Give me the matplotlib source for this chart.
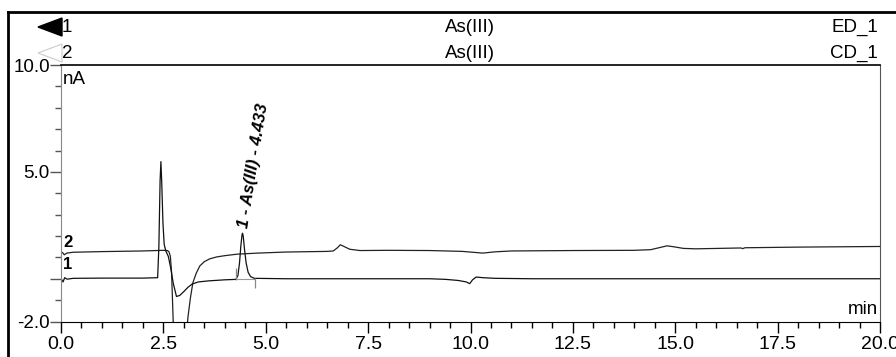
import numpy as np
import matplotlib.pyplot as plt
from matplotlib.lines import Line2D
from matplotlib.patches import Polygon

plt.rcParams['font.family'] = ['Liberation Sans', 'DejaVu Sans']

# trace 1 : ED_1 (nA)
ed_time = [0, 0.02, 0.05, 0.09, 0.15, 0.3, 1.0, 2.0, 2.36, 2.39, 2.42, 2.44, 2.46,
           2.49, 2.52, 2.56, 2.62, 2.68, 2.74, 2.82, 2.9, 3.0, 3.1, 3.2, 3.35, 3.6,
           4.0, 4.27, 4.32, 4.36, 4.39, 4.42, 4.433, 4.45, 4.48, 4.52, 4.57, 4.63,
           4.72, 5.5, 7.0, 9.0, 9.4, 9.7, 9.9, 9.98, 10.05, 10.14, 10.3, 10.6, 11.5,
           14.0, 17.0, 20.0]
ed_signal = [0.03, -0.05, -0.15, 0.05, -0.02, 0.02, 0.03, 0.03, 0.05, 1.5, 4.6, 5.48, 4.5,
             2.6, 1.6, 1.3, 1.05, 0.5, -0.2, -0.83, -0.78, -0.6, -0.4, -0.25, -0.15, -0.1,
             -0.05, -0.03, 0.15, 0.75, 1.5, 2.05, 2.13, 2.0, 1.4, 0.75, 0.3, 0.1,
             0.02, 0.0, 0.0, 0.0, -0.03, -0.08, -0.15, -0.23, -0.05, 0.08, 0.05, 0.02, 0.0,
             0.0, 0.0, 0.0]

# trace 2 : CD_1
cd_time = [0, 0.04, 0.08, 0.14, 0.3, 1.0, 2.0, 2.5, 2.6, 2.64, 2.67, 2.7, 2.74, 2.8,
           2.9, 3.0, 3.05, 3.1, 3.16, 3.22, 3.3, 3.39, 3.5, 3.63, 3.8, 4.0, 4.3, 4.8,
           5.5, 6.5, 6.65, 6.75, 6.82, 6.9, 7.05, 7.3, 8.0, 9.0, 9.8, 10.3, 10.6, 11.0,
           12.5, 14.0, 14.4, 14.6, 14.8, 14.95, 15.2, 15.5, 16.6, 16.65, 16.7, 18.0, 20.0]
cd_signal = [1.25, 1.22, 1.12, 1.2, 1.24, 1.27, 1.3, 1.33, 1.32, 1.25, 1.05, 0.3, -2.0, -3.5,
             -4.3, -3.8, -3.0, -1.8, -0.9, -0.19, 0.25, 0.6, 0.8, 0.93, 1.02, 1.08, 1.15, 1.2,
             1.25, 1.28, 1.3, 1.45, 1.59, 1.52, 1.38, 1.32, 1.33, 1.32, 1.28, 1.2, 1.26, 1.3,
             1.32, 1.33, 1.36, 1.45, 1.54, 1.5, 1.42, 1.40, 1.44, 1.41, 1.45, 1.48, 1.51]

# integrated peak
peak_label = '1 - As(III) - 4.433'
peak_start = 4.27
peak_end = 4.73
peak_base = [0.0, 0.0]

x_ticks = [0, 2.5, 5, 7.5, 10, 12.5, 15, 17.5, 20]
y_ticks = [10, 5, 0, -2]
y_tick_labels = ['10.0', '5.0', '', '-2.0']

W, H = 896, 357
fig = plt.figure(figsize=(W / 100, H / 100), dpi=100)
ax = fig.add_axes([61 / W, 35.5 / H, 819 / W, 256.5 / H])

ax.plot(cd_time, cd_signal, color='#222222', lw=0.9)
ax.plot(ed_time, ed_signal, color='#111111', lw=0.9)

# integration baseline and delimiters
ax.plot([peak_start, peak_end], peak_base, color='#999999', lw=0.8)
ax.vlines(peak_start, peak_base[0] - 0.05, peak_base[0] + 0.5, color='#888888', lw=0.9)
ax.vlines(peak_end, peak_base[1] - 0.42, peak_base[1] + 0.05, color='#888888', lw=0.9)

ax.text(4.7, 2.35, peak_label, rotation=81, ha='center', va='bottom',
        fontsize=12, fontweight='bold', fontstyle='italic')

ax.text(0.05, 1.7, '2', fontsize=12, fontweight='bold', va='center', ha='left')
ax.text(0.05, 0.65, '1', fontsize=12, fontweight='bold', va='center', ha='left')

ax.set_xlim(0, 20)
ax.set_ylim(-2, 10)
ax.set_xticks(x_ticks)
ax.set_xticklabels([f'{v:.1f}' for v in x_ticks])
ax.set_xticks(np.arange(0, 20.01, 0.5), minor=True)
ax.set_yticks(y_ticks)
ax.set_yticklabels(y_tick_labels)
ax.set_yticks(np.arange(-2, 10.01, 1), minor=True)

ax.tick_params(axis='x', which='major', direction='out', length=8, width=1,
               labelsize=14, pad=2.5)
ax.tick_params(axis='x', which='minor', direction='out', length=4, width=1)
ax.tick_params(axis='y', which='major', direction='out', length=8, width=1,
               labelsize=13.5, pad=0, color='#555555')
ax.tick_params(axis='y', which='minor', direction='out', length=4, width=1,
               color='#555555')

ax.spines['left'].set_color('#888888')
ax.spines['right'].set_color('#555555')
ax.spines['top'].set_color('black')
ax.spines['top'].set_linewidth(1.2)
ax.spines['bottom'].set_color('black')

ax.text(0.002, 0.975, 'nA', transform=ax.transAxes, fontsize=13.5, va='top', ha='left')
ax.text(0.998, 0.015, 'min', transform=ax.transAxes, fontsize=13.5, va='bottom', ha='right')

# outer report frame
fig.add_artist(Line2D([8 / W, 1], [1 - 12 / H] * 2, transform=fig.transFigure,
                      color='black', lw=2))
fig.add_artist(Line2D([8 / W] * 2, [0, 1 - 12 / H], transform=fig.transFigure,
                      color='black', lw=2))

# header: channel rows
rows = [('1', 'As(III)', 'ED_1', 27), ('2', 'As(III)', 'CD_1', 53)]
for i, (num, name, chan, yp) in enumerate(rows):
    yf = 1 - yp / H
    tri = [(38 / W, yf), (62 / W, yf + 9 / H), (62 / W, yf - 9 / H)]
    if i == 0:
        fig.add_artist(Polygon(tri, closed=True, transform=fig.transFigure,
                               facecolor='black', edgecolor='black'))
    else:
        fig.add_artist(Polygon(tri, closed=True, transform=fig.transFigure,
                               facecolor='none', edgecolor='#cccccc', lw=0.8))
    fig.text(62 / W, yf, num, fontsize=13.5, va='center', ha='left')
    fig.text(470 / W, yf, name, fontsize=13.5, va='center', ha='center')
    fig.text(878 / W, yf, chan, fontsize=13.5, va='center', ha='right')

fig.savefig('out.png', dpi=100)
